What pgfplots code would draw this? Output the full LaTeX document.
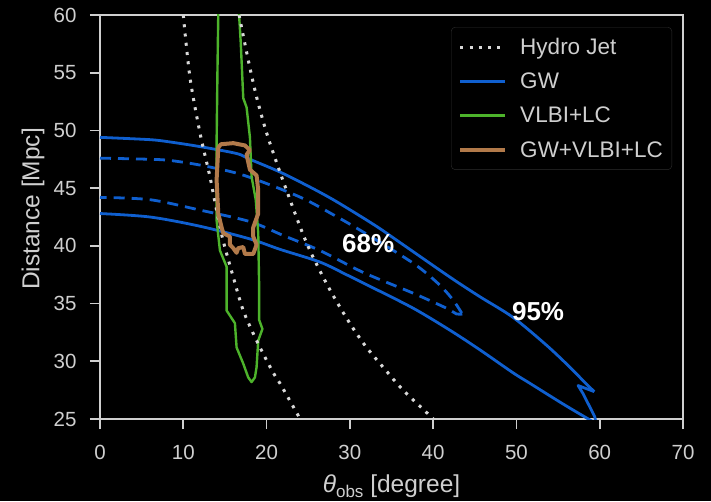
\documentclass[border=0pt]{standalone}
\usepackage{pgfplots}
\pgfplotsset{compat=1.18}
\usepackage{fontspec}
\setmainfont{Liberation Sans}
\definecolor{gwblue}{HTML}{0F5FCF}
\definecolor{vlbigreen}{HTML}{4DB32B}
\definecolor{combbrown}{HTML}{B27A4A}
\definecolor{hydrogray}{HTML}{D8D8D8}
\definecolor{axisgray}{HTML}{CFCFCF}
\definecolor{legendedge}{HTML}{2E2E2E}

\pgfplotstableread{
x y
10.0 60.0
10.8 54.6
12.0 49.8
13.2 46.0
13.8 43.8
14.7 40.7
16.0 37.3
17.2 34.4
18.8 31.8
20.8 29.0
21.6 28.1
23.8 25.3
24.0 25.0
}\hydroleft

\pgfplotstableread{
x y
16.7 60.0
17.8 56.1
18.8 52.9
20.0 49.8
21.6 46.4
24.0 41.7
25.4 39.3
27.6 36.2
29.9 33.4
31.9 31.3
34.1 29.4
36.4 27.5
39.6 25.3
40.0 25.0
}\hydroright

% GW 95% contour, upper branch up to the notch
\pgfplotstableread{
x y
0.0 49.4
6.0 49.2
8.4 49.0
12.0 48.6
16.4 48.0
18.0 47.5
21.6 46.4
25.2 45.1
28.0 44.0
31.2 42.6
33.6 41.5
36.0 40.3
42.0 37.3
45.6 35.6
49.6 33.8
53.6 31.4
56.4 29.5
58.3 28.1
59.35 27.37
}\gwupper

% the notch and the drop below the axis
\pgfplotstableread{
x y
59.35 27.37
57.4 27.9
58.0 27.2
59.4 25.2
59.6 24.5
}\gwnotch

% GW 95% contour, lower branch
\pgfplotstableread{
x y
0.0 42.8
6.0 42.5
12.0 41.7
18.0 40.6
21.6 39.7
26.4 38.6
29.6 37.5
32.4 36.5
37.6 34.6
42.0 32.7
45.6 31.0
49.6 29.0
51.6 28.1
55.6 26.3
58.4 25.1
59.6 24.6
}\gwlower

% GW 68% contour
\pgfplotstableread{
x y
0.0 47.6
6.0 47.5
8.4 47.4
12.0 47.0
16.4 46.3
20.0 45.4
24.4 44.1
28.0 42.7
31.6 41.2
37.6 38.5
40.5 36.8
42.3 35.4
43.5 34.1
}\gwinnerup

\pgfplotstableread{
x y
43.5 34.1
42.8 34.1
41.6 34.6
37.6 35.9
31.6 37.7
26.4 39.6
22.0 40.9
18.0 42.1
12.0 43.1
6.0 44.0
0.0 44.2
}\gwinnerlow

\pgfplotstableread{
x y
14.2 61.0
14.2 60.0
14.1 55.0
14.0 48.9
14.0 44.0
14.0 42.2
14.4 39.6
15.2 38.2
15.2 34.4
16.2 33.3
16.4 31.2
17.2 29.8
17.8 28.6
18.2 28.2
18.6 28.6
18.8 29.5
19.0 31.8
19.5 32.8
19.1 33.6
19.1 36.8
19.0 41.1
18.7 44.0
18.2 46.0
18.0 49.4
17.6 52.0
17.2 52.8
16.9 57.6
16.7 60.0
16.7 61.0
}\vlbi

\pgfplotstableread{
x y
14.2 48.5
14.5 48.8
16.0 48.9
17.4 48.7
18.0 48.3
17.6 47.9
18.0 46.6
18.8 46.1
19.0 44.8
19.0 42.8
18.4 41.6
18.4 40.8
18.8 40.1
18.4 39.3
17.4 39.3
17.2 39.9
16.6 39.8
16.4 39.4
16.0 39.8
15.6 40.1
15.6 40.8
14.8 41.1
14.6 41.6
14.2 42.8
14.0 45.7
14.2 48.5
}\combined

\begin{document}
\begin{tikzpicture}
\useasboundingbox (-100pt,-82pt) rectangle (611pt,419pt);
\fill[black] (-100pt,-82pt) rectangle (611pt,419pt);
\begin{axis}[
  scale only axis,
  width=583pt, height=404pt,
  xmin=0, xmax=70, ymin=25, ymax=60,
  xtick={0,10,...,70}, ytick={25,30,...,60},
  axis line style={draw=axisgray, line width=1.6pt},
  tick style={draw=axisgray, line width=1.6pt},
  tick align=outside, major tick length=10pt,
  xtick pos=bottom, ytick pos=left,
  /pgf/number format/assume math mode=true,
  ticklabel style={font=\fontsize{20.5}{24}\selectfont, text=axisgray},
  xticklabel style={yshift=-13pt},
  yticklabel style={xshift=-10pt},
  xlabel={{\itshape θ}\raisebox{-0.35ex}{\fontsize{17}{20}\selectfont obs} [degree]},
  ylabel={Distance [Mpc]},
  label style={font=\fontsize{24.5}{28}\selectfont, text=axisgray},
  xlabel style={at={(axis description cs:0.5,-0.182)}, anchor=base},
  ylabel style={at={(axis description cs:-0.115,0.52)}, anchor=center},
  legend style={at={(rel axis cs:1,1)}, anchor=north east, xshift=-11pt, yshift=-12pt,
    fill=black, draw=legendedge, rounded corners=4pt, text=axisgray,
    font=\fontsize{22.5}{26}\selectfont, row sep=13pt,
    inner xsep=7pt, inner ysep=9pt},
  legend cell align=left,
  legend image code/.code={\draw[#1] (0pt,0pt) -- (45pt,0pt); \path (56pt,0pt);},
]
\addlegendimage{hydrogray, line width=3pt, dash pattern=on 3pt off 6.3pt}
\addlegendentry{Hydro Jet}
\addlegendimage{gwblue, line width=2.8pt}
\addlegendentry{GW}
\addlegendimage{vlbigreen, line width=2.8pt}
\addlegendentry{VLBI+LC}
\addlegendimage{combbrown, line width=4pt}
\addlegendentry{GW+VLBI+LC}

\addplot[forget plot, gwblue, line width=2.8pt, smooth, tension=0.5] table {\gwupper};
\addplot[forget plot, gwblue, line width=2.8pt, line join=round] table {\gwnotch};
\addplot[forget plot, gwblue, line width=2.8pt, smooth, tension=0.5] table {\gwlower};
\addplot[forget plot, gwblue, line width=2.8pt, smooth, tension=0.5, dash pattern=on 11pt off 7pt] table {\gwinnerup};
\addplot[forget plot, gwblue, line width=2.8pt, smooth, tension=0.5, dash pattern=on 11pt off 7pt] table {\gwinnerlow};
\addplot[forget plot, vlbigreen, line width=2.4pt, line join=round] table {\vlbi};
\addplot[forget plot, hydrogray, line width=3pt, dash pattern=on 3pt off 6.3pt, smooth] table {\hydroleft};
\addplot[forget plot, hydrogray, line width=3pt, dash pattern=on 3pt off 6.3pt, smooth] table {\hydroright};
\addplot[forget plot, combbrown, line width=4pt, line join=round, line cap=round] table {\combined};

\node[text=white, font=\bfseries\fontsize{26}{30}\selectfont] at (axis cs:32.2,40.2) {68\%};
\node[text=white, font=\bfseries\fontsize{26}{30}\selectfont] at (axis cs:52.6,34.3) {95\%};
\end{axis}
\end{tikzpicture}
\end{document}
